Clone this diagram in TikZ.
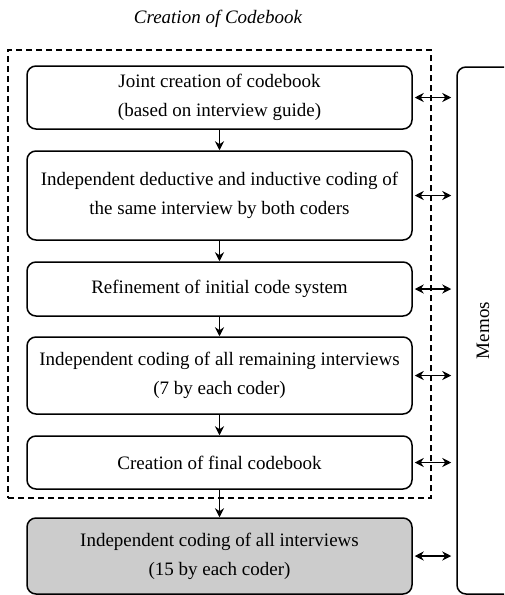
\documentclass[tikz,border=0pt]{standalone}
\usepackage{fontspec}
\setmainfont{Liberation Serif}
\usetikzlibrary{arrows.meta}
\begin{document}
\begin{tikzpicture}[x=1pt,y=-1pt,
  stepbox/.style={draw, line width=1.5pt, rounded corners=9pt, minimum width=385pt,
    align=center, font=\fontsize{19}{29}\selectfont, inner sep=0pt},
  flow/.style={-{Stealth[length=9pt,width=9pt]}, line width=1.5pt},
  link/.style={{Stealth[length=9pt,width=9pt]}-{Stealth[length=9pt,width=9pt]}, line width=1.5pt,
    shorten <=2pt, shorten >=5pt},
  groupframe/.style={draw, dashed, dash pattern=on 6pt off 4pt, line width=1.4pt,
    minimum width=423pt, minimum height=448pt, inner sep=0pt},
  memobox/.style={draw, line width=1.5pt, rounded corners=9pt, minimum width=70pt,
    minimum height=527pt, inner sep=0pt}]
\useasboundingbox (0,0) rectangle (504,595);
\clip (0,0) rectangle (504,595);

\node[font=\fontsize{19}{23}\selectfont\itshape] (title) at (218,19) {Creation of Codebook};
\node[groupframe] (group) at (219.5,274) {};

\node[stepbox, minimum height=63pt] (b1) at (219.5,97.5)
  {Joint creation of codebook\\(based on interview guide)};
\node[stepbox, minimum height=89pt] (b2) at (219.5,195.5)
  {Independent deductive and inductive coding of\\the same interview by both coders};
\node[stepbox, minimum height=54pt] (b3) at (219.5,289)
  {Refinement of initial code system};
\node[stepbox, minimum height=77pt] (b4) at (219.5,375.5)
  {Independent coding of all remaining interviews\\(7 by each coder)};
\node[stepbox, minimum height=53pt] (b5) at (219.5,462.5)
  {Creation of final codebook};
\node[stepbox, minimum height=76pt, fill=black!20] (b6) at (219.5,556)
  {Independent coding of all interviews\\(15 by each coder)};

\node[memobox] (memos) at (492,330.5) {};
\node[rotate=90, font=\fontsize{19}{23}\selectfont] (memolabel) at (483,330.5) {Memos};

\draw[flow] (b1) -- (b2);
\draw[flow] (b2) -- (b3);
\draw[flow] (b3) -- (b4);
\draw[flow] (b4) -- (b5);
\draw[flow] (b5) -- (b6);

\foreach \b in {b1,b2,b3,b4,b5,b6}
  \draw[link] (\b.east) -- (memos.west |- \b.east);
\end{tikzpicture}
\end{document}
